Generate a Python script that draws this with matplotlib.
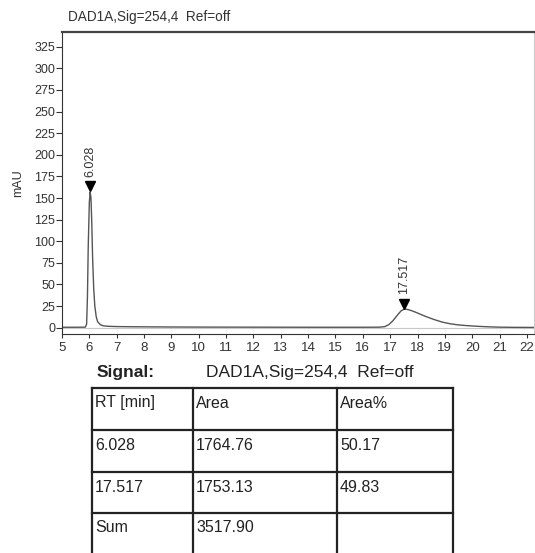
import numpy as np
import matplotlib
matplotlib.use("Agg")
import matplotlib.pyplot as plt
from matplotlib import transforms

plt.rcParams['font.family'] = ['Liberation Sans', 'DejaVu Sans']

# chromatogram trace (time in min, signal in mAU)
time = [5.0, 5.5, 5.85, 5.9, 5.93, 5.96, 6.0, 6.03, 6.06, 6.09, 6.12, 6.16, 6.2,
        6.25, 6.3, 6.4, 6.5, 6.7, 7.0, 7.5, 8.0, 9.0, 10.0, 12.0, 14.0, 16.0,
        16.6, 16.8, 16.95, 17.1, 17.25, 17.4, 17.52, 17.65, 17.8, 18.0, 18.3,
        18.6, 18.9, 19.2, 19.5, 19.8, 20.2, 20.6, 21.0, 21.5, 22.3]
signal = [0.5, 0.5, 0.6, 4, 35, 95, 145, 157, 150, 120, 80, 45, 25,
          13, 7, 3.5, 2.2, 1.6, 1.3, 1.1, 1.0, 0.8, 0.7, 0.6, 0.5, 0.5,
          0.6, 1.2, 3.5, 8, 14, 19.5, 21.5, 21, 19.5, 17, 13,
          9.5, 6.5, 4.5, 3.2, 2.4, 1.6, 1.0, 0.6, 0.4, 0.3]

peak_rt = [6.028, 17.517]
peak_h = [157, 21.5]
peak_labels = ["6.028", "17.517"]

signal_name = "DAD1A,Sig=254,4  Ref=off"
table_header = ["RT [min]", "Area", "Area%"]
table_rows = [["6.028", "1764.76", "50.17"],
              ["17.517", "1753.13", "49.83"],
              ["Sum", "3517.90", ""]]

W, H = 535, 553
fig = plt.figure(figsize=(W / 100, H / 100), dpi=100)
fig.patch.set_facecolor('white')

ax_l, ax_r, ax_t, ax_b = 62, 534, 32, 334
ax = fig.add_axes([ax_l / W, 1 - ax_b / H, (ax_r - ax_l) / W, (ax_b - ax_t) / H])

ax.axhline(0, color='#c8c8c8', lw=0.8, zorder=1)
ax.plot(time, signal, color='#555555', lw=1.0, zorder=2)

mark_tr = transforms.offset_copy(ax.transData, fig=fig, y=4, units='points')
txt_tr = transforms.offset_copy(ax.transData, fig=fig, y=11, units='points')
for rt, h, lab in zip(peak_rt, peak_h, peak_labels):
    ax.plot([rt], [h], marker='v', color='black', markersize=7.5,
            transform=mark_tr, zorder=3)
    ax.text(rt, h, lab, rotation=90, ha='center', va='bottom', fontsize=9,
            color='#333333', transform=txt_tr)

ax.set_xlim(5, 22.26)
ax.set_ylim(-7.3, 342)
ax.set_xticks(np.arange(5, 23, 1))
ax.set_yticks(np.arange(0, 326, 25))
ax.tick_params(axis='y', labelsize=9, length=4.5, width=0.8,
               colors='#333333', pad=0.5)
ax.tick_params(axis='x', labelsize=9.5, length=3, width=0.8,
               colors='#333333', pad=2.5)
ax.spines['top'].set_linewidth(1.6)
ax.spines['top'].set_color('#444444')
ax.spines['right'].set_color('#cccccc')
ax.spines['right'].set_linewidth(0.8)
ax.spines['left'].set_color('#333333')
ax.spines['bottom'].set_color('#333333')
ax.set_ylabel("mAU", fontsize=9, color='#333333', labelpad=7)

fig.text(68 / W, 1 - 17 / H, signal_name, fontsize=9.8, color='#333333',
         ha='left', va='center')

# table area in pixel coordinates
tab = fig.add_axes([0, 0, 1, 1])
tab.set_xlim(0, W)
tab.set_ylim(H, 0)
tab.axis('off')

tab.text(97, 373, "Signal:", fontsize=12.5, fontweight='bold', color='#222222',
         ha='left', va='center')
tab.text(206, 373, signal_name, fontsize=12.5, color='#222222',
         ha='left', va='center')

col_x = [92, 193, 337, 453]
row_y = [388, 430, 472, 513, 556]
for x in col_x:
    tab.plot([x, x], [row_y[0], row_y[-1]], color='#222222', lw=1.6)
for y in row_y[:-1]:
    tab.plot([col_x[0], col_x[-1]], [y, y], color='#222222', lw=1.6)

for r, row in enumerate([table_header] + table_rows):
    for c, val in enumerate(row):
        tab.text(col_x[c] + 3, row_y[r] + 15, val, fontsize=11.5,
                 color='#222222', ha='left', va='center')

fig.savefig("out.png", dpi=100)
